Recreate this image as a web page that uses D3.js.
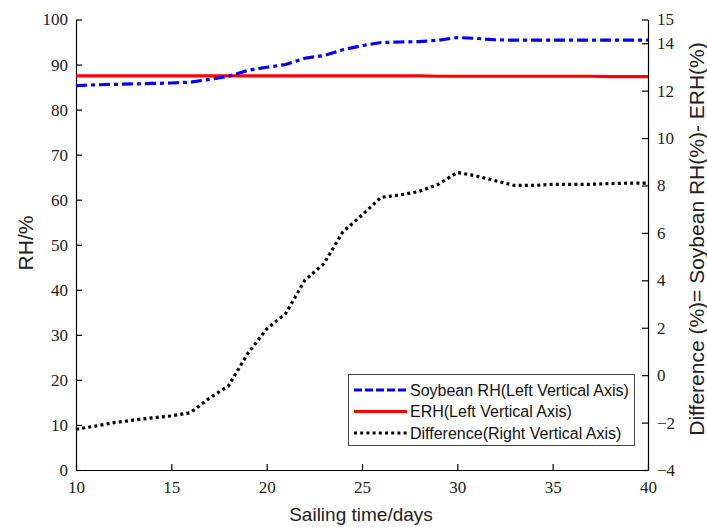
<!DOCTYPE html>
<html>
<head>
<meta charset="utf-8">
<script src="https://cdn.jsdelivr.net/npm/d3@7"></script>
<style>
  body { margin: 0; background: #fff; }
  .tick text { font-family: "Liberation Serif", serif; font-size: 17px; fill: #222; }
  .axis path, .axis line { stroke: #000; stroke-width: 1.2; }
  .title { font-family: "Liberation Sans", Arial, sans-serif; fill: #222; }
  .legend text { font-family: "Liberation Sans", Arial, sans-serif; font-size: 16px; fill: #111; }
</style>
</head>
<body>
<script>
// sailing days
var days = [10, 11, 12, 13, 14, 15, 16, 17, 18, 19, 20, 21, 22, 23, 24, 25,
            26, 27, 28, 29, 30, 31, 32, 33, 34, 35, 36, 37, 38, 39, 40];

// soybean RH, left axis (%)
var soybeanRH = [85.3, 85.5, 85.6, 85.7, 85.8, 85.9, 86.1, 86.7, 87.4, 88.7, 89.4,
                 90.0, 91.4, 92.0, 93.3, 94.2, 94.9, 95.0, 95.1, 95.4, 96.0, 95.8,
                 95.5, 95.4, 95.4, 95.4, 95.4, 95.4, 95.4, 95.4, 95.4];

// ERH, left axis (%)
var erh = [87.5, 87.5, 87.5, 87.5, 87.5, 87.5, 87.5, 87.5, 87.5, 87.5, 87.5,
           87.5, 87.5, 87.5, 87.5, 87.5, 87.5, 87.5, 87.5, 87.4, 87.4, 87.4,
           87.4, 87.4, 87.4, 87.4, 87.4, 87.4, 87.3, 87.3, 87.3];

// difference, right axis (%)
var diff = [-2.28, -2.15, -2.0, -1.9, -1.8, -1.72, -1.58, -0.97, -0.45, 0.9, 1.95,
            2.6, 4.0, 4.7, 6.05, 6.75, 7.5, 7.6, 7.75, 8.05, 8.55, 8.4,
            8.2, 8.0, 8.0, 8.05, 8.05, 8.05, 8.08, 8.1, 8.1];

var xTicks = [10, 15, 20, 25, 30, 35, 40];
var leftTicks = [0, 10, 20, 30, 40, 50, 60, 70, 80, 90, 100];
var rightTicks = [-4, -2, 0, 2, 4, 6, 8, 10, 12, 14, 15];

var legendLabels = ["Soybean RH(Left Vertical Axis)", "ERH(Left Vertical Axis)", "Difference(Right Vertical Axis)"];

var width = 707, height = 527;
var plotLeft = 76, plotRight = 648, plotTop = 19.5, plotBottom = 470;

var svg = d3.select("body").append("svg")
    .attr("width", width)
    .attr("height", height);

var x = d3.scaleLinear().domain([10, 40]).range([plotLeft, plotRight]);
var yL = d3.scaleLinear().domain([0, 100]).range([plotBottom, plotTop]);
var yR = d3.scaleLinear().domain([-4, 15]).range([plotBottom, plotTop]);

var fmt = function(d) { return d < 0 ? "\u2212" + Math.abs(d) : d; };

// axes, ticks point into the plot
svg.append("g")
    .attr("class", "axis")
    .attr("transform", "translate(0," + plotBottom + ")")
    .call(d3.axisBottom(x).tickValues(xTicks).tickSizeInner(-6).tickSizeOuter(0))
    .call(function(g) { g.selectAll(".tick text").attr("y", 23).attr("dy", 0); });

svg.append("g")
    .attr("class", "axis")
    .attr("transform", "translate(" + plotLeft + ",0)")
    .call(d3.axisLeft(yL).tickValues(leftTicks).tickSizeInner(-6).tickSizeOuter(0).tickPadding(8));

svg.append("g")
    .attr("class", "axis")
    .attr("transform", "translate(" + plotRight + ",0)")
    .call(d3.axisRight(yR).tickValues(rightTicks).tickFormat(fmt).tickSizeInner(-6).tickSizeOuter(0).tickPadding(9));

// titles
svg.append("text")
    .attr("class", "title")
    .attr("text-anchor", "middle")
    .attr("font-size", 19)
    .attr("x", 361)
    .attr("y", 521)
    .text("Sailing time/days");

svg.append("text")
    .attr("class", "title")
    .attr("text-anchor", "middle")
    .attr("font-size", 21)
    .attr("transform", "translate(33,243) rotate(-90)")
    .text("RH/%");

svg.append("text")
    .attr("class", "title")
    .attr("text-anchor", "middle")
    .attr("font-size", 21)
    .attr("transform", "translate(704,239) rotate(-90)")
    .text("Difference (%)= Soybean RH(%)- ERH(%)");

// lines
var lineL = d3.line().x(function(d, i) { return x(days[i]); }).y(function(d) { return yL(d); });
var lineR = d3.line().x(function(d, i) { return x(days[i]); }).y(function(d) { return yR(d); });

var styles = [
    { color: "#0000ff", dash: "11,4,4,4" },
    { color: "#ff0000", dash: null },
    { color: "#000000", dash: "3,3.2" }
];

svg.append("path")
    .attr("d", lineL(erh))
    .attr("fill", "none")
    .attr("stroke", styles[1].color)
    .attr("stroke-width", 3.2);

svg.append("path")
    .attr("d", lineL(soybeanRH))
    .attr("fill", "none")
    .attr("stroke", styles[0].color)
    .attr("stroke-width", 3.2)
    .attr("stroke-dasharray", styles[0].dash);

svg.append("path")
    .attr("d", lineR(diff))
    .attr("fill", "none")
    .attr("stroke", styles[2].color)
    .attr("stroke-width", 3.2)
    .attr("stroke-dasharray", styles[2].dash);

// legend
var legend = svg.append("g").attr("class", "legend");
legend.append("rect")
    .attr("x", 348.5).attr("y", 374.5)
    .attr("width", 286).attr("height", 71)
    .attr("fill", "#fff")
    .attr("stroke", "#444")
    .attr("stroke-width", 1);

legendLabels.forEach(function(lab, i) {
    var yy = 390 + i * 21.5;
    legend.append("line")
        .attr("x1", 354).attr("x2", 407)
        .attr("y1", yy).attr("y2", yy)
        .attr("stroke", styles[i].color)
        .attr("stroke-width", 3)
        .attr("stroke-dasharray", i == 0 ? "8,3" : styles[i].dash);
    legend.append("text")
        .attr("x", 410)
        .attr("y", yy + 5.5)
        .text(lab);
});
</script>
</body>
</html>
